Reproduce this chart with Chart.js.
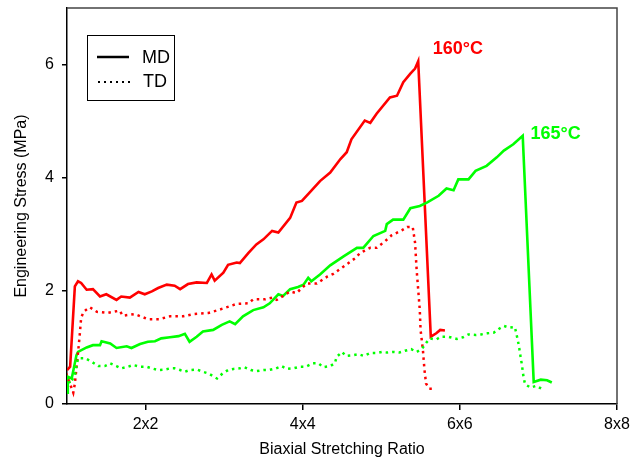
<!DOCTYPE html>
<html>
<head>
<meta charset="utf-8">
<script src="https://cdn.jsdelivr.net/npm/chart.js@4/dist/chart.umd.min.js"></script>
<style>
  body { margin: 0; background: #fff; }
</style>
</head>
<body>
<canvas id="myChart" width="634" height="461"></canvas>
<script>
// stress-strain data (x = stretch ratio, y = stress MPa)
const md160X = [1.0, 1.04, 1.10, 1.14, 1.18, 1.25, 1.33, 1.42, 1.50, 1.63, 1.69, 1.80, 1.91, 1.99, 2.08, 2.16, 2.27, 2.37, 2.44, 2.54, 2.65, 2.78, 2.84, 2.88, 2.99, 3.05, 3.16, 3.20, 3.31, 3.41, 3.50, 3.61, 3.69, 3.84, 3.92, 3.99, 4.11, 4.22, 4.35, 4.48, 4.56, 4.62, 4.79, 4.86, 4.94, 5.11, 5.20, 5.28, 5.37, 5.43, 5.47, 5.63, 5.70, 5.75, 5.81];
const md160Y = [0.60, 0.66, 2.08, 2.17, 2.14, 2.02, 2.03, 1.90, 1.94, 1.84, 1.90, 1.88, 1.98, 1.94, 1.99, 2.05, 2.11, 2.09, 2.03, 2.12, 2.15, 2.14, 2.29, 2.18, 2.32, 2.46, 2.50, 2.49, 2.67, 2.82, 2.91, 3.06, 3.03, 3.29, 3.56, 3.59, 3.77, 3.94, 4.09, 4.33, 4.45, 4.68, 5.01, 4.97, 5.13, 5.42, 5.45, 5.69, 5.84, 5.93, 6.06, 1.19, 1.25, 1.31, 1.30];

const td160X = [0.99, 1.08, 1.10, 1.14, 1.16, 1.18, 1.21, 1.29, 1.38, 1.52, 1.67, 1.71, 1.86, 2.03, 2.18, 2.31, 2.48, 2.61, 2.80, 2.90, 2.99, 3.16, 3.31, 3.37, 3.52, 3.61, 3.67, 3.84, 3.92, 4.05, 4.18, 4.31, 4.39, 4.48, 4.60, 4.67, 4.73, 4.86, 4.94, 5.05, 5.13, 5.26, 5.33, 5.40, 5.43, 5.45, 5.47, 5.49, 5.50, 5.53, 5.55, 5.57, 5.61, 5.68];
const td160Y = [0.54, 0.20, 0.36, 0.90, 1.19, 1.52, 1.63, 1.71, 1.63, 1.61, 1.65, 1.56, 1.59, 1.50, 1.50, 1.55, 1.55, 1.59, 1.61, 1.65, 1.69, 1.77, 1.78, 1.85, 1.85, 1.88, 1.84, 1.99, 1.96, 2.13, 2.13, 2.25, 2.30, 2.39, 2.51, 2.58, 2.67, 2.76, 2.76, 2.88, 2.98, 3.07, 3.13, 3.13, 2.85, 2.37, 2.02, 1.66, 1.31, 0.95, 0.60, 0.36, 0.27, 0.27];

const md165X = [1.0, 1.01, 1.06, 1.12, 1.14, 1.25, 1.33, 1.42, 1.44, 1.55, 1.63, 1.76, 1.82, 1.93, 2.03, 2.12, 2.20, 2.31, 2.42, 2.50, 2.56, 2.65, 2.73, 2.86, 2.97, 3.07, 3.14, 3.24, 3.37, 3.50, 3.58, 3.69, 3.75, 3.84, 3.94, 4.01, 4.07, 4.11, 4.22, 4.35, 4.52, 4.69, 4.77, 4.90, 5.05, 5.07, 5.15, 5.28, 5.37, 5.49, 5.58, 5.73, 5.83, 5.92, 5.98, 6.11, 6.20, 6.34, 6.47, 6.56, 6.68, 6.80, 6.94, 7.03, 7.11, 7.17];
const md165Y = [0.20, 0.48, 0.45, 0.86, 0.92, 1.00, 1.04, 1.04, 1.11, 1.07, 0.99, 1.02, 0.99, 1.06, 1.10, 1.11, 1.16, 1.18, 1.20, 1.24, 1.10, 1.19, 1.28, 1.31, 1.40, 1.46, 1.41, 1.55, 1.66, 1.71, 1.78, 1.94, 1.91, 2.03, 2.07, 2.11, 2.23, 2.17, 2.29, 2.45, 2.61, 2.76, 2.76, 2.97, 3.06, 3.18, 3.26, 3.26, 3.46, 3.50, 3.56, 3.68, 3.81, 3.78, 3.97, 3.97, 4.12, 4.21, 4.36, 4.48, 4.59, 4.74, 0.39, 0.43, 0.42, 0.38];

const td165X = [0.99, 1.04, 1.10, 1.14, 1.23, 1.31, 1.40, 1.48, 1.55, 1.63, 1.69, 1.78, 1.84, 1.93, 2.01, 2.08, 2.16, 2.25, 2.31, 2.37, 2.44, 2.50, 2.56, 2.65, 2.73, 2.80, 2.91, 2.98, 3.05, 3.12, 3.20, 3.26, 3.34, 3.41, 3.50, 3.57, 3.66, 3.73, 3.80, 3.88, 3.97, 4.04, 4.13, 4.20, 4.26, 4.35, 4.41, 4.43, 4.50, 4.55, 4.63, 4.71, 4.78, 4.86, 4.94, 5.01, 5.07, 5.15, 5.23, 5.30, 5.38, 5.45, 5.52, 5.57, 5.62, 5.70, 5.76, 5.85, 5.96, 6.04, 6.11, 6.20, 6.27, 6.35, 6.43, 6.50, 6.56, 6.63, 6.70, 6.72, 6.75, 6.77, 6.79, 6.81, 6.83, 6.90, 6.97, 7.04];
const td165Y = [0.51, 0.36, 0.51, 0.81, 0.81, 0.75, 0.67, 0.67, 0.72, 0.67, 0.63, 0.66, 0.69, 0.66, 0.66, 0.63, 0.60, 0.61, 0.63, 0.63, 0.60, 0.57, 0.60, 0.61, 0.57, 0.54, 0.45, 0.54, 0.60, 0.62, 0.63, 0.65, 0.60, 0.58, 0.60, 0.60, 0.63, 0.67, 0.62, 0.63, 0.66, 0.66, 0.72, 0.72, 0.65, 0.67, 0.72, 0.83, 0.92, 0.85, 0.86, 0.88, 0.85, 0.90, 0.90, 0.92, 0.91, 0.92, 0.91, 0.94, 0.97, 0.92, 0.98, 1.08, 1.16, 1.14, 1.19, 1.19, 1.15, 1.18, 1.23, 1.22, 1.23, 1.25, 1.26, 1.33, 1.38, 1.35, 1.36, 1.24, 1.04, 0.86, 0.69, 0.48, 0.35, 0.29, 0.32, 0.27];

// axis ticks
const xTickValues = [2, 4, 6, 8];
const xTickLabels = ['2x2', '4x4', '6x6', '8x8'];
const yTickValues = [0, 2, 4, 6];

// curve labels
const tempLabels = ['160°C', '165°C'];

const FONT = 'Arial, "Liberation Sans", sans-serif';
const RED = '#ff0000';
const GREEN = '#00ff00';

function toPoints(xs, ys) {
    return xs.map((x, i) => ({x: x, y: ys[i]}));
}

// frame, legend box and temperature labels
const decorations = {
    id: 'decorations',
    afterDraw(chart) {
        const {ctx, chartArea: a, scales: {x, y}} = chart;
        ctx.save();

        // top / right frame
        ctx.strokeStyle = '#444';
        ctx.lineWidth = 1.5;
        ctx.beginPath();
        ctx.moveTo(a.left, a.top);
        ctx.lineTo(a.right, a.top);
        ctx.lineTo(a.right, a.bottom);
        ctx.stroke();

        // legend box
        const lx = a.left + 20, ly = a.top + 27;
        ctx.strokeStyle = '#000';
        ctx.lineWidth = 1;
        ctx.strokeRect(lx + 0.5, ly + 0.5, 87, 65);
        ctx.lineWidth = 2.5;
        ctx.beginPath();
        ctx.moveTo(lx + 10, ly + 22);
        ctx.lineTo(lx + 42, ly + 22);
        ctx.stroke();
        ctx.lineWidth = 2;
        ctx.setLineDash([2, 4]);
        ctx.beginPath();
        ctx.moveTo(lx + 11, ly + 47);
        ctx.lineTo(lx + 45, ly + 47);
        ctx.stroke();
        ctx.setLineDash([]);
        ctx.fillStyle = '#000';
        ctx.font = '18px ' + FONT;
        ctx.textAlign = 'left';
        ctx.textBaseline = 'middle';
        ctx.fillText('MD', lx + 55, ly + 23);
        ctx.fillText('TD', lx + 56, ly + 47);

        // temperature labels next to the MD peaks
        ctx.font = 'bold 18px ' + FONT;
        ctx.fillStyle = RED;
        ctx.fillText(tempLabels[0], x.getPixelForValue(5.656), y.getPixelForValue(6.28));
        ctx.fillStyle = GREEN;
        ctx.fillText(tempLabels[1], x.getPixelForValue(6.90), y.getPixelForValue(4.77));
        ctx.restore();
    }
};

const solid = (color, pts) => ({
    data: pts, borderColor: color, borderWidth: 2.6, pointRadius: 0,
    showLine: true, fill: false, tension: 0
});
const dotted = (color, pts) => ({
    data: pts, borderColor: color, borderWidth: 2.5, borderDash: [2.5, 4],
    pointRadius: 0, showLine: true, fill: false, tension: 0
});

let ctx = document.getElementById('myChart');

let myChart = new Chart(ctx, {
    type: 'scatter',
    data: {
        datasets: [
            dotted(GREEN, toPoints(td165X, td165Y)),
            dotted(RED, toPoints(td160X, td160Y)),
            solid(GREEN, toPoints(md165X, md165Y)),
            solid(RED, toPoints(md160X, md160Y))
        ]
    },
    options: {
        responsive: false,
        animation: false,
        layout: {padding: {left: 0, right: 17, top: 8, bottom: 0}},
        plugins: {legend: {display: false}, tooltip: {enabled: false}},
        scales: {
            x: {
                type: 'linear', min: 1, max: 8,
                afterFit: s => { s.height = 57; s.paddingLeft = 0; s.paddingRight = 0; },
                afterBuildTicks: s => { s.ticks = xTickValues.map(v => ({value: v})); },
                grid: {drawOnChartArea: false, drawTicks: true, tickLength: 6, color: '#000', lineWidth: 1.5},
                border: {display: true, color: '#000', width: 1.5},
                ticks: {
                    color: '#000', padding: 5, maxRotation: 0,
                    font: {family: FONT, size: 16},
                    callback: v => xTickLabels[xTickValues.indexOf(v)]
                },
                title: {
                    display: true, text: 'Biaxial Stretching Ratio', color: '#000',
                    font: {family: FONT, size: 16}, padding: {top: 0, bottom: 2}
                }
            },
            y: {
                type: 'linear', min: 0, max: 7,
                afterFit: s => { s.width = 67; s.paddingTop = 0; s.paddingBottom = 0; },
                afterBuildTicks: s => { s.ticks = yTickValues.map(v => ({value: v})); },
                grid: {drawOnChartArea: false, drawTicks: true, tickLength: 5, color: '#000', lineWidth: 1.5},
                border: {display: true, color: '#000', width: 1.5},
                ticks: {color: '#000', padding: 8, font: {family: FONT, size: 16}},
                title: {
                    display: true, text: 'Engineering Stress (MPa)', color: '#000',
                    font: {family: FONT, size: 16}, padding: {top: 12, bottom: 0}
                }
            }
        }
    },
    plugins: [decorations]
});
</script>
</body>
</html>
